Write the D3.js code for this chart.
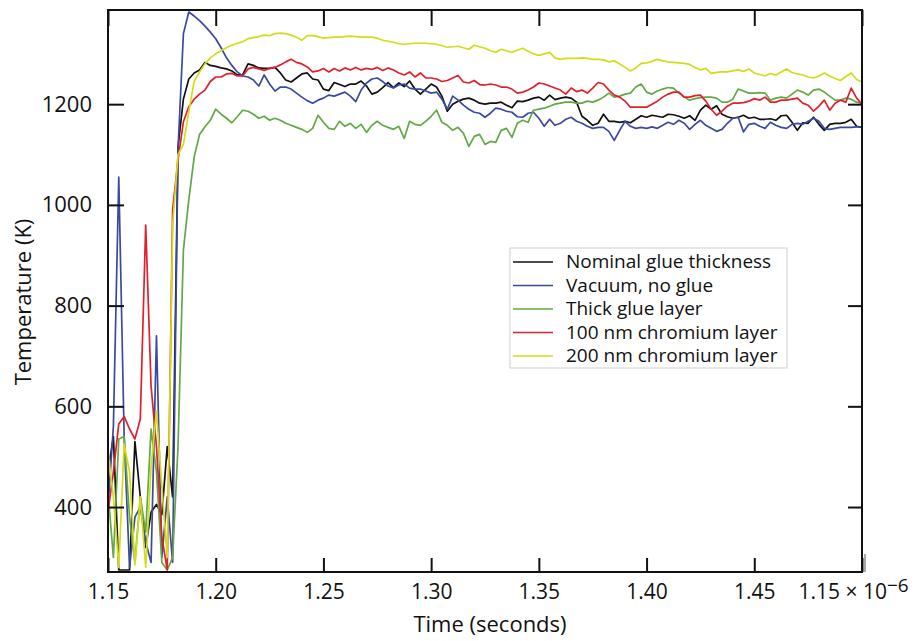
<!DOCTYPE html>
<html>
<head>
<meta charset="utf-8">
<script src="https://cdn.jsdelivr.net/npm/d3@7"></script>
<style>
  html, body { margin: 0; padding: 0; background: #fff; }
  svg { display: block; font-family: "Open Sans", "Noto Sans", sans-serif; }
</style>
</head>
<body>
<script>
// ---------- data ----------
const times = [
  1.1500,1.1525,1.1550,1.1575,1.1600,1.1625,1.1650,1.1675,1.1700,1.1725,
  1.1750,1.1775,1.1800,1.1825,1.1850,1.1875,1.1900,1.1925,1.1950,1.1975,
  1.2000,1.2025,1.2050,1.2075,1.2100,1.2125,1.2150,1.2175,1.2200,1.2225,
  1.2250,1.2275,1.2300,1.2325,1.2350,1.2375,1.2400,1.2425,1.2450,1.2475,
  1.2500,1.2525,1.2550,1.2575,1.2600,1.2625,1.2650,1.2675,1.2700,1.2725,
  1.2750,1.2775,1.2800,1.2825,1.2850,1.2875,1.2900,1.2925,1.2950,1.2975,
  1.3000,1.3025,1.3050,1.3075,1.3100,1.3125,1.3150,1.3175,1.3200,1.3225,
  1.3250,1.3275,1.3300,1.3325,1.3350,1.3375,1.3400,1.3425,1.3450,1.3475,
  1.3500,1.3525,1.3550,1.3575,1.3600,1.3625,1.3650,1.3675,1.3700,1.3725,
  1.3750,1.3775,1.3800,1.3825,1.3850,1.3875,1.3900,1.3925,1.3950,1.3975,
  1.4000,1.4025,1.4050,1.4075,1.4100,1.4125,1.4150,1.4175,1.4200,1.4225,
  1.4250,1.4275,1.4300,1.4325,1.4350,1.4375,1.4400,1.4425,1.4450,1.4475,
  1.4500,1.4525,1.4550,1.4575,1.4600,1.4625,1.4650,1.4675,1.4700,1.4725,
  1.4750,1.4775,1.4800,1.4825,1.4850,1.4875,1.4900,1.4925,1.4950,1.4975,
  1.5000
];

const nominalGlue = [
  470,540,275,275,275,530,420,320,390,405,
  385,520,420,1115,1210,1250,1262,1268,1283,1277,
  1275,1272,1270,1266,1258,1258,1280,1277,1272,1271,
  1271,1273,1262,1248,1244,1252,1260,1262,1250,1248,
  1230,1227,1243,1239,1235,1240,1240,1246,1236,1220,
  1224,1233,1243,1233,1242,1235,1246,1230,1220,1230,
  1240,1234,1216,1186,1200,1206,1210,1212,1208,1202,
  1200,1202,1202,1204,1198,1193,1206,1205,1208,1212,
  1214,1208,1218,1209,1212,1214,1212,1204,1176,1168,
  1158,1162,1180,1166,1166,1164,1166,1163,1170,1177,
  1174,1178,1176,1174,1180,1179,1176,1172,1177,1168,
  1188,1198,1190,1197,1180,1175,1172,1174,1178,1172,
  1174,1170,1170,1171,1168,1177,1178,1164,1148,1163,
  1162,1174,1160,1148,1160,1162,1162,1164,1170,1156,
  1154
];

const vacuumNoGlue = [
  400,560,1055,540,280,380,400,330,290,740,
  300,420,290,1110,1340,1383,1375,1366,1355,1343,
  1330,1312,1292,1277,1264,1256,1254,1248,1236,1258,
  1240,1226,1234,1234,1230,1222,1214,1207,1202,1208,
  1212,1218,1216,1220,1224,1216,1205,1228,1242,1250,
  1252,1245,1236,1232,1238,1240,1232,1230,1230,1226,
  1222,1224,1210,1190,1216,1208,1198,1190,1184,1182,
  1174,1182,1192,1190,1186,1184,1175,1174,1182,1184,
  1172,1156,1170,1158,1162,1170,1174,1166,1162,1156,
  1152,1154,1154,1146,1128,1148,1166,1156,1152,1154,
  1152,1155,1152,1158,1164,1160,1168,1162,1150,1160,
  1168,1158,1152,1146,1150,1162,1172,1174,1145,1160,
  1162,1156,1152,1164,1158,1154,1152,1160,1162,1160,
  1166,1172,1166,1152,1150,1152,1154,1154,1154,1155,
  1155
];

const thickGlue = [
  430,300,535,540,380,290,420,350,555,470,
  290,275,300,520,910,1010,1095,1140,1155,1168,
  1190,1180,1172,1163,1175,1188,1186,1180,1172,1176,
  1168,1172,1168,1162,1158,1154,1150,1144,1152,1178,
  1164,1152,1150,1166,1156,1162,1152,1160,1144,1158,
  1166,1158,1154,1150,1156,1132,1166,1160,1158,1166,
  1176,1188,1164,1158,1148,1154,1142,1116,1136,1140,
  1120,1126,1124,1148,1152,1134,1162,1168,1164,1188,
  1190,1192,1196,1200,1202,1204,1204,1202,1202,1206,
  1204,1208,1214,1222,1214,1216,1220,1222,1234,1240,
  1224,1220,1226,1230,1233,1232,1222,1214,1208,1211,
  1213,1214,1214,1212,1204,1204,1210,1230,1226,1222,
  1222,1223,1222,1208,1212,1214,1212,1220,1228,1224,
  1218,1228,1230,1224,1216,1208,1208,1212,1210,1204,
  1202
];

const chromium100 = [
  390,470,565,580,555,535,575,960,640,520,
  340,275,990,1090,1165,1195,1210,1220,1228,1245,
  1254,1254,1260,1261,1256,1256,1270,1273,1270,1267,
  1271,1273,1278,1284,1289,1283,1280,1274,1264,1266,
  1271,1264,1271,1266,1272,1268,1273,1268,1271,1269,
  1273,1267,1272,1268,1262,1258,1264,1254,1262,1252,
  1252,1250,1245,1247,1252,1257,1244,1242,1247,1239,
  1238,1240,1238,1234,1234,1230,1222,1224,1228,1234,
  1242,1240,1236,1232,1228,1220,1232,1225,1228,1222,
  1232,1243,1240,1228,1218,1214,1206,1194,1194,1194,
  1194,1200,1206,1214,1220,1224,1224,1214,1214,1217,
  1218,1206,1190,1178,1186,1196,1202,1202,1203,1206,
  1211,1208,1214,1204,1204,1208,1208,1210,1212,1202,
  1198,1186,1196,1208,1188,1202,1208,1204,1232,1212,
  1200
];

const chromium200 = [
  510,420,280,525,470,285,420,280,480,590,
  440,300,960,1100,1120,1185,1245,1264,1280,1292,
  1300,1306,1312,1317,1321,1324,1330,1332,1334,1337,
  1336,1340,1341,1340,1337,1333,1327,1336,1336,1334,
  1331,1332,1333,1333,1334,1335,1334,1333,1333,1333,
  1331,1327,1325,1323,1320,1319,1320,1321,1321,1321,
  1320,1319,1316,1313,1314,1315,1312,1309,1317,1314,
  1311,1306,1303,1309,1306,1303,1307,1311,1305,1300,
  1297,1300,1303,1292,1289,1291,1291,1291,1292,1291,
  1289,1289,1288,1284,1286,1280,1273,1266,1272,1281,
  1282,1285,1289,1286,1284,1283,1282,1281,1279,1273,
  1268,1271,1261,1263,1264,1264,1266,1268,1265,1270,
  1262,1259,1256,1261,1258,1264,1270,1263,1260,1258,
  1254,1252,1256,1262,1256,1251,1247,1255,1262,1249,
  1244
];

const seriesNames = [
  "Nominal glue thickness",
  "Vacuum, no glue",
  "Thick glue layer",
  "100 nm chromium layer",
  "200 nm chromium layer"
];
const seriesValues = [nominalGlue, vacuumNoGlue, thickGlue, chromium100, chromium200];
const seriesColors = ["#111111", "#3b4a9e", "#62a846", "#e2202b", "#d4dc16"];

const xTicks = [1.15, 1.20, 1.25, 1.30, 1.35, 1.40, 1.45, 1.50];
const xTickLabels = ["1.15", "1.20", "1.25", "1.30", "1.35", "1.40", "1.45", "1.15 × 10"];
const xTickLastSup = "−6";
const yTicks = [400, 600, 800, 1000, 1200];
const xTitle = "Time (seconds)";
const yTitle = "Temperature (K)";

// ---------- layout ----------
const W = 923, H = 641;
const L = 108, R = 862, T = 10, B = 572;

const svg = d3.select("body").append("svg").attr("width", W).attr("height", H);

const x = d3.scaleLinear().domain([1.15, 1.50]).range([L, R]);
const y = d3.scaleLinear().domain([271, 1387]).range([B, T]);

svg.append("defs").append("clipPath").attr("id", "plotclip")
  .append("rect").attr("x", L).attr("y", T).attr("width", R - L).attr("height", B - T);

// lines
const line = d3.line()
  .x((d, i) => x(times[i]))
  .y(d => y(d));

const gLines = svg.append("g").attr("clip-path", "url(#plotclip)");
seriesValues.forEach((vals, k) => {
  gLines.append("path")
    .datum(vals)
    .attr("fill", "none")
    .attr("stroke", seriesColors[k])
    .attr("stroke-width", 1.7)
    .attr("stroke-linejoin", "round")
    .attr("d", line);
});

// axes
const fmtX = (d, i) => xTickLabels[i];

const axB = svg.append("g").attr("transform", `translate(0,${B})`)
  .call(d3.axisBottom(x).tickValues(xTicks).tickSize(-14).tickPadding(12).tickFormat(fmtX));
const axT = svg.append("g").attr("transform", `translate(0,${T})`)
  .call(d3.axisTop(x).tickValues(xTicks).tickSize(-16).tickFormat(""));
const axL = svg.append("g").attr("transform", `translate(${L},0)`)
  .call(d3.axisLeft(y).tickValues(yTicks).tickSize(-16).tickPadding(16).tickFormat(d3.format("d")));
const axR = svg.append("g").attr("transform", `translate(${R},0)`)
  .call(d3.axisRight(y).tickValues(yTicks).tickSize(-14).tickFormat(""));

[axB, axT, axL, axR].forEach(g => {
  g.select(".domain").remove();
  g.selectAll(".tick line").attr("stroke", "#111").attr("stroke-width", 2);
  g.selectAll("text").attr("fill", "#111").attr("font-family", "'Open Sans', sans-serif");
});
axB.selectAll("text").attr("font-size", 21);
axL.selectAll("text").attr("font-size", 22);

// last x label with superscript exponent
const lastTick = axB.selectAll(".tick text").filter((d, i) => i === xTicks.length - 1);
lastTick.attr("text-anchor", "start").attr("x", -64);
lastTick.append("tspan").attr("dy", "-0.35em").attr("font-size", 19).text(xTickLastSup);

// frame
svg.append("rect")
  .attr("x", L).attr("y", T).attr("width", R - L).attr("height", B - T)
  .attr("fill", "none").attr("stroke", "#111").attr("stroke-width", 2);
svg.append("line")
  .attr("x1", R + 3).attr("x2", R + 3).attr("y1", B - 18).attr("y2", B)
  .attr("stroke", "#555").attr("stroke-width", 1);

// axis titles
svg.append("text")
  .attr("x", 490).attr("y", 632)
  .attr("text-anchor", "middle")
  .attr("font-size", 22).attr("fill", "#111")
  .text(xTitle);
svg.append("text")
  .attr("transform", "translate(31,302) rotate(-90)")
  .attr("text-anchor", "middle")
  .attr("font-size", 22).attr("fill", "#111")
  .text(yTitle);

// legend
const lg = svg.append("g");
lg.append("rect")
  .attr("x", 510).attr("y", 248).attr("width", 277).attr("height", 120)
  .attr("fill", "#fff").attr("stroke", "#cfcfcf").attr("stroke-width", 1);
seriesNames.forEach((name, k) => {
  const by = 268 + k * 23.5;
  lg.append("line")
    .attr("x1", 513).attr("x2", 553).attr("y1", by - 6).attr("y2", by - 6)
    .attr("stroke", seriesColors[k]).attr("stroke-width", 1.7);
  lg.append("text")
    .attr("x", 566).attr("y", by)
    .attr("font-size", 19).attr("fill", "#111")
    .text(name);
});
</script>
</body>
</html>
